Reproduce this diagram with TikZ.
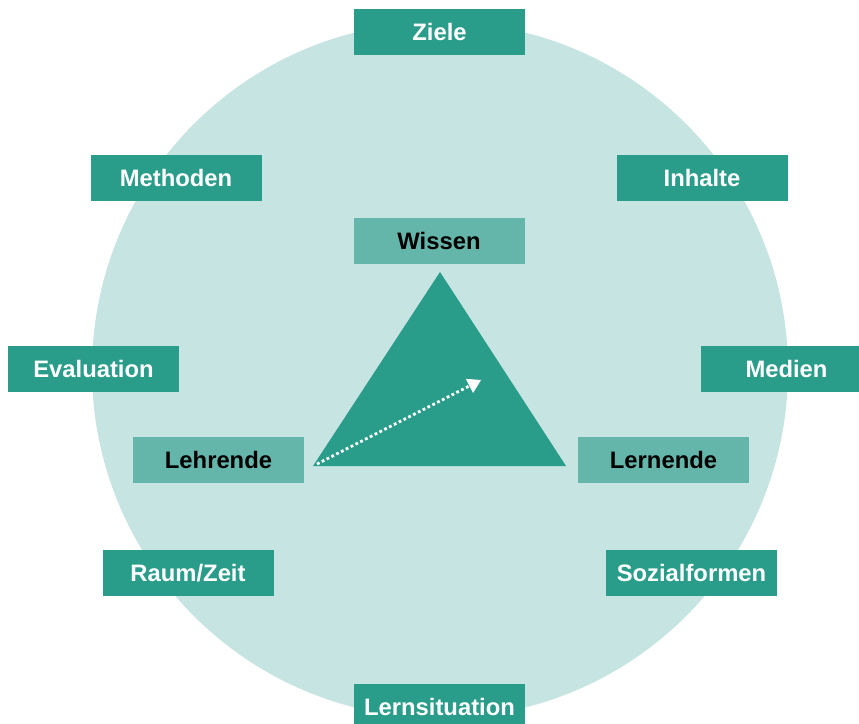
\documentclass[tikz,border=0pt]{standalone}
\usepackage{fontspec}
\setmainfont{Liberation Sans}
\usetikzlibrary{arrows.meta}
\definecolor{tealdark}{HTML}{299C8A}
\definecolor{teallight}{HTML}{64B6AA}
\definecolor{circlebg}{HTML}{C6E4E1}
\begin{document}
\begin{tikzpicture}[x=1pt,y=-1pt,
  darkbox/.style={fill=tealdark,minimum width=171pt,minimum height=46pt,inner sep=0pt,
    text=white,font=\fontsize{23.8}{26}\selectfont\bfseries},
  lightbox/.style={fill=teallight,minimum width=171pt,minimum height=46pt,inner sep=0pt,
    text=black,font=\fontsize{23.8}{26}\selectfont\bfseries},
  dotarrow/.style={white,line width=2.8pt,dash pattern=on 2.8pt off 2.6pt,
    -{Triangle[length=13pt,width=16pt,line width=0pt]}}]
\useasboundingbox (0,0) rectangle (859,723);
\clip (0,0) rectangle (859,723);
\fill[circlebg] (440,370) circle[radius=348];
% triangle
\coordinate (tA) at (440,272);
\coordinate (tL) at (313,466);
\coordinate (tR) at (566,466);
\fill[tealdark] (tA) -- (tR) -- (tL) -- cycle;
\coordinate (arrS) at (317,464);
\coordinate (arrE) at (481,380);
\draw[dotarrow] (arrS) -- (arrE);
% boxes
\node[darkbox] (ziele) at (439.5,31.5) {Ziele};
\node[darkbox] (methoden) at (176,178) {Methoden};
\node[darkbox] (inhalte) at (702,178) {Inhalte};
\node[lightbox] (wissen) at (439,241) {Wissen};
\node[darkbox] (evaluation) at (93.5,369) {Evaluation};
\node[darkbox] (medien) at (786.5,369) {Medien};
\node[lightbox] (lehrende) at (218.5,460) {Lehrende};
\node[lightbox] (lernende) at (663.5,460) {Lernende};
\node[darkbox] (raumzeit) at (188,573) {Raum/Zeit};
\node[darkbox] (sozial) at (691.5,573) {Sozialformen};
\node[darkbox] (lernsit) at (439.5,707) {Lernsituation};
\end{tikzpicture}
\end{document}
